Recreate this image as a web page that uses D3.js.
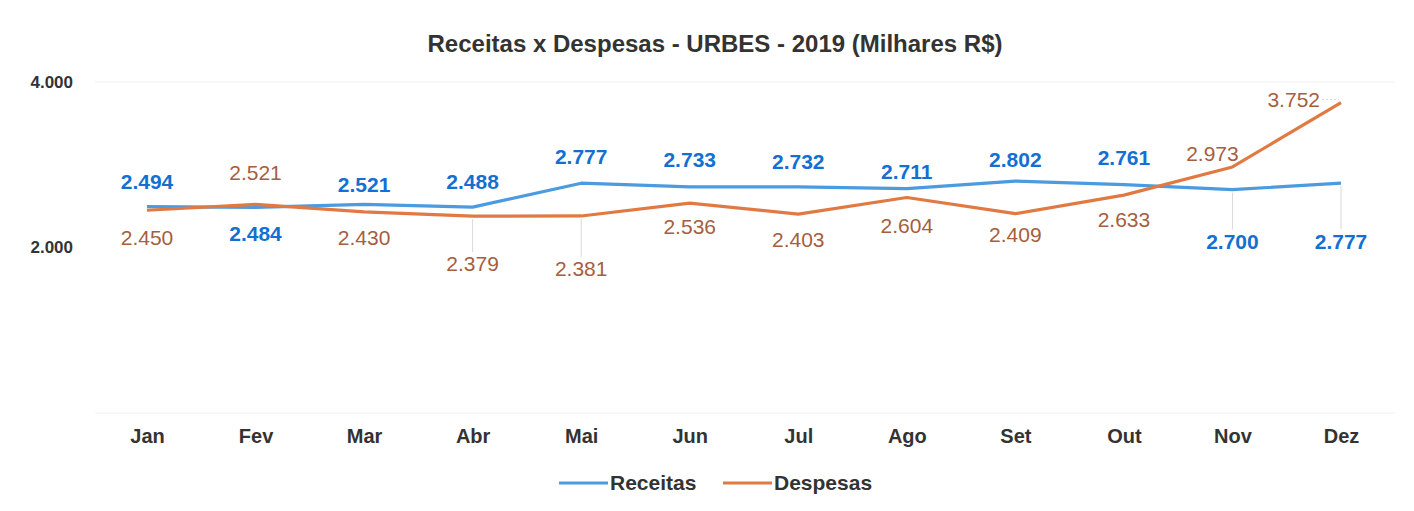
<!DOCTYPE html>
<html><head><meta charset="utf-8">
<script src="https://cdn.jsdelivr.net/npm/d3@7"></script>
<style>body{margin:0;background:#fff;}svg{display:block;font-family:"Liberation Sans",Arial,sans-serif;}</style>
</head><body>
<svg id="c" width="1414" height="511"></svg>
<script>
const months = ["Jan","Fev","Mar","Abr","Mai","Jun","Jul","Ago","Set","Out","Nov","Dez"];
const receitas = [2494,2484,2521,2488,2777,2733,2732,2711,2802,2761,2700,2777];
const despesas = [2450,2521,2430,2379,2381,2536,2403,2604,2409,2633,2973,3752];
const yTicks = [2000,4000];
const seriesNames = ["Receitas","Despesas"];
// label offsets (px) relative to each point
const recOff = [[0,-25],[0,26],[0,-20],[0,-25],[0,-27],[0,-27],[0,-25],[0,-17],[0,-21],[0,-27],[0,52],[0,58]];
const desOff = [[0,27],[0,-32],[0,26],[0,48],[0,53],[0,24],[0,25],[0,28],[0,21],[0,25],[-20,-13],[-21,-3]];

const svg = d3.select("#c");
const x = d3.scalePoint().domain(months).range([147,1341]);
const y = d3.scaleLinear().domain([0,4000]).range([413,82]);

// faint gridlines
svg.append("g").selectAll("line").data([0,4000]).join("line")
  .attr("x1",95).attr("x2",1395).attr("y1",d=>y(d)).attr("y2",d=>y(d))
  .attr("stroke","#f0f0f0").attr("stroke-width",1);

// y axis labels
const yAxis = d3.axisLeft(y).tickValues(yTicks).tickSize(0).tickPadding(0)
  .tickFormat(d=>d3.format(",")(d).replace(/,/g,"."));
const ya = svg.append("g").attr("transform","translate(73,0)").call(yAxis);
ya.select(".domain").remove();
ya.selectAll("text").attr("font-size",17).attr("font-weight","bold").attr("fill","#333").attr("dy","0.32em");

// x axis labels
const xAxis = d3.axisBottom(x).tickSize(0).tickPadding(0);
const xa = svg.append("g").attr("transform","translate(0,429)").call(xAxis);
xa.select(".domain").remove();
xa.selectAll("text").attr("font-size",20).attr("font-weight","bold").attr("fill","#333").attr("dy","0.71em");

// title
svg.append("text").attr("x",715).attr("y",52).attr("text-anchor","middle")
  .attr("font-size",23).attr("font-weight","bold").attr("fill","#333")
  .attr("textLength",575).attr("lengthAdjust","spacingAndGlyphs")
  .text("Receitas x Despesas - URBES - 2019 (Milhares R$)");

const line = d3.line().x((d,i)=>x(months[i])).y(d=>y(d));
const colors = {line:["#4b9be0","#e07a42"], label:["#1370d2","#a55e3e"]};

svg.append("path").datum(receitas).attr("d",line).attr("fill","none")
  .attr("stroke",colors.line[0]).attr("stroke-width",3.2).attr("stroke-linejoin","round");
svg.append("path").datum(despesas).attr("d",line).attr("fill","none")
  .attr("stroke",colors.line[1]).attr("stroke-width",3.2).attr("stroke-linejoin","round");

const fmt = v => d3.format(",")(v).replace(/,/g,".");
function labels(data, offs, col, weight){
  const g = svg.append("g");
  data.forEach((v,i)=>{
    const px = x(months[i]), py = y(v);
    const [dx,dy] = offs[i];
    if (Math.abs(dy) > 40) {
      g.append("line").attr("x1",px).attr("x2",px)
        .attr("y1", py + (dy>0?3:-3)).attr("y2", py + dy + (dy>0?-12:12))
        .attr("stroke","#cfcfcf").attr("stroke-width",0.8);
    }
    if (dx < -20 && Math.abs(dy) < 10) {
      g.append("line").attr("x1",px+dx+2).attr("x2",px-2).attr("y1",py+dy).attr("y2",py+dy)
        .attr("stroke","#cfcfcf").attr("stroke-width",0.8).attr("stroke-dasharray","2,2");
    }
    g.append("text").attr("x",px+dx).attr("y",py+dy).attr("dy","0.35em")
      .attr("text-anchor", (dx<-20 && Math.abs(dy)<10) ? "end" : "middle")
      .attr("font-size",21).attr("font-weight",weight).attr("fill",col).text(fmt(v));
  });
}
labels(receitas, recOff, colors.label[0], "bold");
labels(despesas, desOff, colors.label[1], "normal");

// legend
const leg = svg.append("g").attr("transform","translate(0,483)");
const legItems = [{x:559,name:seriesNames[0],c:colors.line[0]},{x:723,name:seriesNames[1],c:colors.line[1]}];
legItems.forEach(it=>{
  leg.append("line").attr("x1",it.x).attr("x2",it.x+49).attr("stroke",it.c).attr("stroke-width",3.2);
  leg.append("text").attr("x",it.x+51).attr("dy","0.35em").attr("font-size",21).attr("font-weight","bold")
    .attr("fill","#333").text(it.name);
});
</script>
</body></html>
